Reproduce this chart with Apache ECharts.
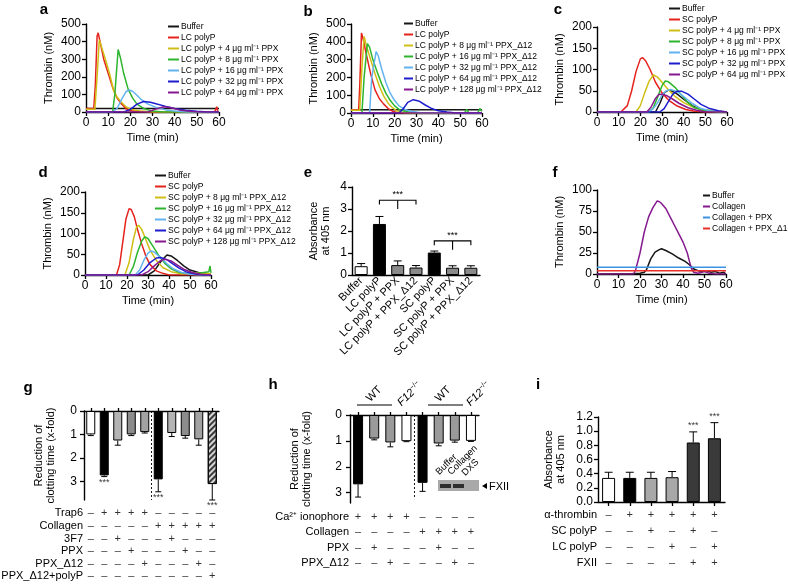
<!DOCTYPE html>
<html><head><meta charset="utf-8">
<script src="https://cdn.jsdelivr.net/npm/echarts/dist/echarts.min.js"></script>
<style>html,body{margin:0;padding:0;background:#fff}#c{width:788px;height:584px}</style>
</head><body><div id="c"></div>
<script>
// ---------------- DATA ----------------
const timeTicks = [0, 60, 10];
// panel a
const a_names = ['Buffer','LC polyP','LC polyP + 4 μg ml⁻¹ PPX','LC polyP + 8 μg ml⁻¹ PPX','LC polyP + 16 μg ml⁻¹ PPX','LC polyP + 32 μg ml⁻¹ PPX','LC polyP + 64 μg ml⁻¹ PPX'];
const a_buffer = [[0,20],[60,20]];
const a_lc = [[0,20],[3.5,20],[4.2,150],[5,430],[5.5,450],[6.5,390],[8,300],[10,220],[12,140],[14,80],[16,45],[18,20],[20,8],[24,2],[30,0],[58,0],[59,30],[59.5,0]];
const a_4 = [[0,15],[4,15],[5,200],[6,410],[7,370],[9,290],[11,200],[12.5,120],[14,85],[16,55],[18,30],[20,15],[25,5],[30,0],[60,0]];
const a_8 = [[0,0],[12,0],[13,100],[14.5,355],[15.5,310],[17,220],[19,130],[21,80],[23,45],[26,20],[30,5],[35,0],[60,0]];
const a_16 = [[0,0],[12,0],[14,20],[16,70],[18,115],[19.5,125],[21,118],[23,95],[25,70],[28,45],[32,25],[36,12],[40,5],[45,0],[60,0]];
const a_32 = [[0,0],[17,0],[20,15],[23,45],[26,60],[29,55],[32,45],[36,32],[40,20],[45,10],[50,4],[55,0],[60,0]];
const a_64 = [[0,0],[28,0],[31,15],[35,30],[38,25],[42,12],[46,5],[50,0],[60,0]];
// panel b
const b_names = ['Buffer','LC polyP','LC polyP + 8 μg ml⁻¹ PPX_Δ12','LC polyP + 16 μg ml⁻¹ PPX_Δ12','LC polyP + 32 μg ml⁻¹ PPX_Δ12','LC polyP + 64 μg ml⁻¹ PPX_Δ12','LC polyP + 128 μg ml⁻¹ PPX_Δ12'];
const b_buffer = [[0,18],[60,18]];
const b_lc = [[0,18],[3.5,18],[4,150],[4.8,450],[5.5,420],[7,330],[9,220],[11,130],[13,80],[15,50],[17,25],[19,10],[21,3],[25,0],[60,0]];
const b_8 = [[0,15],[4,15],[5,250],[6,430],[7,380],[9,300],[11,220],[13,150],[15,95],[17,55],[19,30],[21,12],[24,3],[28,0],[60,0]];
const b_16 = [[0,0],[5,0],[6,200],[7.5,390],[8.5,370],[10,300],[12,230],[14,165],[16,110],[18,70],[20,40],[22,20],[25,8],[30,0],[52,0],[53,20],[54,0],[58,0],[59,25],[60,10]];
const b_32 = [[0,0],[8.5,0],[9.5,200],[11.5,345],[12.5,320],[14,250],[16,170],[18,110],[20,70],[22,40],[25,18],[28,8],[32,2],[60,0]];
const b_64 = [[0,0],[22,0],[24,25],[26,60],[28.5,75],[31,68],[34,45],[37,25],[40,12],[44,5],[48,0],[60,0]];
const b_128 = [[0,0],[60,0]];
// panel c
const c_names = ['Buffer','SC polyP','SC polyP + 4 μg ml⁻¹ PPX','SC polyP + 8 μg ml⁻¹ PPX','SC polyP + 16 μg ml⁻¹ PPX','SC polyP + 32 μg ml⁻¹ PPX','SC polyP + 64 μg ml⁻¹ PPX'];
const c_buffer = [[0,0],[27,0],[29,20],[31,45],[33,52],[36,46],[40,30],[44,15],[48,5],[52,2],[60,0]];
const c_sc = [[0,0],[11,0],[14,15],[16,50],[18,95],[20,125],[21,128],[22.5,120],[24.5,100],[27,70],[30,45],[33,28],[37,14],[41,6],[45,2],[50,0],[60,0]];
const c_4 = [[0,0],[18,0],[20,15],[22,45],[24,72],[26,87],[28,82],[30,70],[33,52],[36,37],[40,22],[44,12],[48,6],[55,3],[60,0]];
const c_8 = [[0,0],[24,0],[26,10],[28,35],[30,62],[31.5,73],[33,71],[36,58],[39,40],[42,22],[45,10],[50,4],[55,0],[60,0]];
const c_16 = [[0,0],[24,0],[26,8],[28,22],[30,40],[32,50],[34,53],[37,48],[40,36],[44,20],[48,8],[52,3],[58,0]];
const c_32 = [[0,0],[29,0],[31,8],[33,25],[35,42],[37,49],[39,49],[42,42],[45,30],[48,18],[52,8],[56,3],[60,0]];
const c_64 = [[0,0],[23,0],[25,12],[27,32],[28.5,41],[30,42],[32,39],[35,30],[38,20],[42,10],[46,4],[50,0],[60,0]];
// panel d
const d_names = ['Buffer','SC polyP','SC polyP + 8 μg ml⁻¹ PPX_Δ12','SC polyP + 16 μg ml⁻¹ PPX_Δ12','SC polyP + 32 μg ml⁻¹ PPX_Δ12','SC polyP + 64 μg ml⁻¹ PPX_Δ12','SC polyP + 128 μg ml⁻¹ PPX_Δ12'];
const d_buffer = [[0,0],[30,0],[33,10],[36,32],[39,48],[41,46],[44,35],[47,22],[50,12],[54,6],[58,3],[60,2]];
const d_sc = [[0,0],[15,0],[16.5,25],[18,80],[19.5,135],[21,160],[22,158],[23.5,140],[25,110],[27,75],[29,45],[31,25],[34,10],[37,4],[40,0],[60,0]];
const d_8 = [[0,0],[19,0],[21,30],[23,85],[24.5,115],[25.5,120],[27,110],[29,85],[31,60],[34,35],[37,18],[41,8],[46,3],[52,5],[60,3]];
const d_16 = [[0,0],[21,0],[23,20],[25,55],[27,82],[28.5,92],[30,88],[32,72],[35,48],[38,28],[41,15],[45,6],[50,3],[55,5],[59,8],[59.5,22],[60,5]];
const d_32 = [[0,0],[24,0],[26,12],[28,35],[30,53],[31.5,58],[33,55],[36,42],[39,27],[42,15],[46,6],[50,2],[55,0],[60,0]];
const d_64 = [[0,0],[25,0],[28,12],[31,30],[34,41],[36,42],[39,37],[42,26],[45,16],[48,8],[52,3],[56,0],[60,0]];
const d_128 = [[0,0],[27,0],[30,8],[33,22],[36,35],[38,38],[41,34],[44,24],[47,14],[51,6],[55,2],[60,0]];
// panel f
const f_names = ['Buffer','Collagen','Collagen + PPX','Collagen + PPX_Δ12'];
const f_buffer = [[0,0],[15,0],[20,1],[22,2],[23,5],[25,18],[27,26],[29,29],[30,30],[32,28],[35,24],[38,19],[41,15],[43,11],[45,6],[47,4],[49,3],[51,4],[53,2],[55,3],[57,1],[59,2],[60,0]];
const f_collagen = [[0,0],[17,0],[18,5],[20,25],[22,50],[24,68],[26,79],[28,87],[29,86],[30,84],[32,78],[34,68],[36,58],[38,48],[40,38],[42,25],[43,15],[44,6],[45,2],[47,1],[50,3],[52,1],[55,0],[60,0]];
const f_ppx = [[0,8],[60,8]];
const f_d12 = [[0,4],[60,4]];
// panel e
const e_cats = ['Buffer','LC polyP','LC polyP + PPX','LC polyP + PPX_Δ12','SC polyP','SC polyP + PPX','SC polyP + PPX_Δ12'];
const e_vals = [0.4, 2.32, 0.45, 0.34, 1.02, 0.33, 0.33];
const e_errs = [0.52, 2.66, 0.64, 0.43, 1.09, 0.42, 0.42];
const e_brackets = [[1,3,2,3.4,3.2,3.0],[4,6,5,1.55,1.35,1.15]]; // from, to, mid, top, leg end, mid end
// panel g
const g_vals = [1.0, 2.75, 1.26, 1.0, 0.9, 2.92, 0.94, 1.07, 1.21, 3.12];
const g_errs = [1.05, 2.8, 1.46, 1.05, 0.94, 3.45, 1.09, 1.16, 1.46, 3.8];
const g_stars = [1, 5, 9];
const g_sep = 4.5;
const g_rows = ['Trap6','Collagen','3F7','PPX','PPX_Δ12','PPX_Δ12+polyP'];
const g_signs = ['-++++-----','-----+++++','--+---+---','---+---+--','----+---+-','---------+'];
// panel h
const h_vals = [2.68, 0.91, 1.06, 1.01, 2.62, 1.1, 0.99, 1.0];
const h_errs = [3.17, 0.96, 1.23, 1.03, 2.95, 1.19, 1.05, 1.02];
const h_sep = 3.5;
const h_rows = ['Ca²⁺ ionophore','Collagen','PPX','PPX_Δ12'];
const h_signs = ['++++----','----++++','-+---+--','--+---+-'];
// panel i
const i_vals = [0.34, 0.34, 0.34, 0.35, 0.84, 0.90];
const i_errs = [0.42, 0.42, 0.42, 0.43, 0.99, 1.12];
const i_stars = [4, 5];
const i_rows = ['α-thrombin','SC polyP','LC polyP','FXII'];
const i_signs = ['-+++++','--+-+-','---+-+','----++'];

// ---------------- STYLE ----------------
const FONT = '"Liberation Sans", Arial, Helvetica, sans-serif';
const K = '#000';
const COL = {black:'#161616', red:'#e5231d', yellow:'#cfbf14', green:'#2eb52e', lblue:'#63b3ef', blue:'#1d1dcf', purple:'#86198f', fblue:'#3d92e3', fred:'#e7302a'};
const seven = [COL.black, COL.red, COL.yellow, COL.green, COL.lblue, COL.blue, COL.purple];
const e_colors = ['#fff','#000','#8a8a8a','#8a8a8a','#000','#8a8a8a','#8a8a8a'];
const g_colors = ['#fff','#000','#b4b4b4','#8c8c8c','#a2a2a2','#000','#b4b4b4','#8c8c8c','#a2a2a2','hatch'];
const h_colors = ['#000','#9a9a9a','#9a9a9a','#fff','#000','#9a9a9a','#9a9a9a','#fff'];
const i_colors = ['#fff','#000','#a8a8a8','#a8a8a8','#3a3a3a','#3a3a3a'];

function merge(a, b){ const o = JSON.parse(JSON.stringify(a)); for (const k in b){ if (b[k] && typeof b[k]==='object' && !Array.isArray(b[k]) && typeof b[k]!=='function' && o[k] && typeof o[k]==='object') o[k] = Object.assign({}, o[k], b[k]); else o[k] = b[k]; } return o; }
const axBase = {
  axisLine:{show:true,onZero:false,lineStyle:{color:K,width:1.4}},
  axisTick:{show:true,length:4,lineStyle:{color:K,width:1.3}},
  axisLabel:{color:K,fontSize:12,fontFamily:FONT,margin:5},
  splitLine:{show:false},
  nameTextStyle:{color:K,fontSize:11,fontFamily:FONT,lineHeight:12}
};
const grids=[], xAxes=[], yAxes=[], series=[], legends=[];
function addGrid(g){ grids.push(Object.assign({outerBoundsMode:'none', containLabel:false}, g)); return grids.length-1; }
function addX(o){ xAxes.push(o); return xAxes.length-1; }
function addY(o){ yAxes.push(o); return yAxes.length-1; }

// ---------------- LINE PANELS ----------------
const linePanels = [
  {id:'a', grid:{left:86,top:24,width:133,height:88}, ymax:500, yint:100, lg:{left:168,top:22,w:11}, names:a_names, data:[a_buffer,a_lc,a_4,a_8,a_16,a_32,a_64], colors:seven},
  {id:'b', grid:{left:351,top:24,width:131,height:89}, ymax:500, yint:100, lg:{left:404,top:19,w:9}, names:b_names, data:[b_buffer,b_lc,b_8,b_16,b_32,b_64,b_128], colors:seven},
  {id:'c', grid:{left:597,top:27,width:130,height:85}, ymax:200, yint:50, lg:{left:669,top:4,w:11}, names:c_names, data:[c_buffer,c_sc,c_4,c_8,c_16,c_32,c_64], colors:seven},
  {id:'d', grid:{left:85,top:192,width:126,height:83}, ymax:200, yint:50, lg:{left:155,top:171,w:11}, names:d_names, data:[d_buffer,d_sc,d_8,d_16,d_32,d_64,d_128], colors:seven},
  {id:'f', grid:{left:597,top:190,width:129,height:84}, ymax:100, yint:25, lg:{left:703,top:191,w:7}, names:f_names, data:[f_buffer,f_collagen,f_ppx,f_d12], colors:[COL.black,COL.purple,COL.fblue,COL.fred]}
];
linePanels.forEach(p => {
  const gi = addGrid(p.grid);
  const xi = addX(merge(axBase,{gridIndex:gi,type:'value',min:timeTicks[0],max:timeTicks[1],interval:timeTicks[2],name:'Time (min)',nameLocation:'middle',nameGap:20}));
  const yi = addY(merge(axBase,{gridIndex:gi,type:'value',min:0,max:p.ymax,interval:p.yint,name:'Thrombin (nM)',nameLocation:'middle',nameGap:31}));
  p.data.forEach((d,k) => {
    series.push({type:'line', name:p.id+'|'+p.names[k], xAxisIndex:xi, yAxisIndex:yi, data:d, showSymbol:false, symbol:'none',
      lineStyle:{width:1.5,color:p.colors[k]}, itemStyle:{color:p.colors[k]}, silent:true, z:2+k});
  });
  legends.push({data:p.names.map(n=>p.id+'|'+n), orient:'vertical', left:p.lg.left, top:p.lg.top, icon:'rect', itemWidth:p.lg.w, itemHeight:2, itemGap:2, padding:0, selectedMode:false,
    formatter:n=>n.slice(2), textStyle:{fontSize:8.5,fontFamily:FONT,color:K,padding:[0,0,0,-3]}});
});

// ---------------- BAR HELPERS ----------------
function errSeries(xi, yi, vals, errs, cap){
  return {type:'custom', xAxisIndex:xi, yAxisIndex:yi, z:5, silent:true, clip:false,
    data: vals.map((v,i)=>[i,v,errs[i]]),
    renderItem:(params, api)=>{
      const i = api.value(0);
      const p0 = api.coord([i, vals[params.dataIndex]]);
      const p1 = api.coord([i, errs[params.dataIndex]]);
      return {type:'group', children:[
        {type:'line', shape:{x1:p0[0],y1:p0[1],x2:p1[0],y2:p1[1]}, style:{stroke:K,lineWidth:1}},
        {type:'line', shape:{x1:p1[0]-cap,y1:p1[1],x2:p1[0]+cap,y2:p1[1]}, style:{stroke:K,lineWidth:1}}
      ]};
    }};
}
function barData(vals, colors){
  return vals.map((v,i)=>{
    if (colors[i]==='hatch') return {value:v, itemStyle:{color:'#d6d6d6', borderColor:K, borderWidth:1,
      decal:{symbol:'rect', symbolSize:1, dashArrayX:[1,0], dashArrayY:[1.4,1.8], rotation:-Math.PI/4, color:'#3a3a3a'}}};
    return {value:v, itemStyle:{color:colors[i], borderColor:K, borderWidth:1}};
  });
}
function starSeries(xi, yi, idx, errs, pos){
  return {type:'scatter', xAxisIndex:xi, yAxisIndex:yi, symbolSize:1, itemStyle:{color:'rgba(0,0,0,0)'}, silent:true, clip:false, z:6,
    data: idx.map(i=>[i, errs[i]]),
    label:{show:true, position:pos, distance:1, formatter:'***', color:K, fontSize:9, fontFamily:FONT}};
}
function addTable(grid, n, rows, signs){
  const gi = addGrid(grid);
  const xi = addX({gridIndex:gi,type:'category',data:Array.from({length:n},(_, i)=>i),show:false,boundaryGap:true});
  const yi = addY({gridIndex:gi,type:'category',inverse:true,data:rows,axisLine:{show:false},axisTick:{show:false},splitLine:{show:false},
    axisLabel:{color:K,fontSize:11,fontFamily:FONT,margin:1,interval:0}});
  const data=[];
  signs.forEach((s,r)=>{ [...s].forEach((ch,c)=>data.push([c,r,ch==='+'?1:0])); });
  series.push({type:'scatter', xAxisIndex:xi, yAxisIndex:yi, symbolSize:1, itemStyle:{color:'rgba(0,0,0,0)'}, silent:true, data,
    label:{show:true, position:'inside', formatter:p=>p.value[2]?'+':'–', color:K, fontSize:11, fontFamily:FONT}, labelLayout:{hideOverlap:false}});
}

// ---------------- PANEL e ----------------
{
  const gi = addGrid({left:352,top:187,width:128,height:88});
  const xi = addX(merge(axBase,{gridIndex:gi,type:'category',data:e_cats,axisTick:{show:false},axisLabel:{rotate:45,interval:0,margin:4,fontSize:11}}));
  const yi = addY(merge(axBase,{gridIndex:gi,type:'value',min:0,max:4,interval:1,name:'Absorbance\nat 405 nm',nameLocation:'middle',nameGap:20}));
  series.push({type:'bar', xAxisIndex:xi, yAxisIndex:yi, barWidth:13, data:barData(e_vals,e_colors), silent:true, z:3});
  series.push(errSeries(xi, yi, e_vals, e_errs, 4));
  series.push({type:'custom', xAxisIndex:xi, yAxisIndex:yi, silent:true, clip:false, z:6,
    data:e_brackets.map(b=>[b[0],b[3]]),
    renderItem:(params, api)=>{
      const b = e_brackets[params.dataIndex];
      const A=api.coord([b[0],b[3]]), B=api.coord([b[1],b[3]]), AL=api.coord([b[0],b[4]]), BL=api.coord([b[1],b[4]]), M=api.coord([b[2],b[3]]), MB=api.coord([b[2],b[5]]);
      return {type:'group', children:[
        {type:'polyline', shape:{points:[AL,A,B,BL]}, style:{stroke:K,lineWidth:1.1,fill:null}},
        {type:'line', shape:{x1:M[0],y1:M[1],x2:MB[0],y2:MB[1]}, style:{stroke:K,lineWidth:1.1}},
        {type:'text', x:M[0], y:M[1]-1, style:{text:'***', textAlign:'center', textVerticalAlign:'bottom', fill:K, fontSize:9, fontFamily:FONT}}
      ]};
    }});
}
// ---------------- PANEL g ----------------
{
  const gi = addGrid({left:84,top:411,width:135,height:89});
  const xi = addX(merge(axBase,{gridIndex:gi,type:'category',position:'top',data:g_vals.map((_, i)=>i),axisLabel:{show:false},axisTick:{show:true,alignWithLabel:true,length:3}}));
  const yi = addY(merge(axBase,{gridIndex:gi,type:'value',inverse:true,min:0,max:3.8,interval:1,axisLabel:{showMaxLabel:false,margin:7},name:'Reduction of\nclotting time (x-fold)',nameLocation:'middle',nameGap:27}));
  const xv = addX({gridIndex:gi,type:'value',min:-0.5,max:g_vals.length-0.5,show:false});
  series.push({type:'bar', xAxisIndex:xi, yAxisIndex:yi, barWidth:9, data:barData(g_vals,g_colors), silent:true, z:3});
  series.push(errSeries(xi, yi, g_vals, g_errs, 3));
  series.push(starSeries(xi, yi, g_stars, g_errs, 'bottom'));
  series.push({type:'line', xAxisIndex:xv, yAxisIndex:yi, data:[[g_sep,0],[g_sep,3.8]], symbol:'none', silent:true, lineStyle:{color:K,width:0.9,type:[2,2]}});
  addTable({left:84,top:507,width:135,height:75.6}, g_vals.length, g_rows, g_signs);
}
// ---------------- PANEL h ----------------
{
  const gi = addGrid({left:350,top:415,width:129,height:88});
  const xi = addX(merge(axBase,{gridIndex:gi,type:'category',position:'top',data:h_vals.map((_, i)=>i),axisLabel:{show:false},axisTick:{show:true,alignWithLabel:true,length:3}}));
  const yi = addY(merge(axBase,{gridIndex:gi,type:'value',inverse:true,min:0,max:3.4,interval:1,axisLabel:{showMaxLabel:false,margin:8},name:'Reduction of\nclotting time (x-fold)',nameLocation:'middle',nameGap:37}));
  const xv = addX({gridIndex:gi,type:'value',min:-0.5,max:h_vals.length-0.5,show:false});
  series.push({type:'bar', xAxisIndex:xi, yAxisIndex:yi, barWidth:10, data:barData(h_vals,h_colors), silent:true, z:3});
  series.push(errSeries(xi, yi, h_vals, h_errs, 3));
  series.push({type:'line', xAxisIndex:xv, yAxisIndex:yi, data:[[h_sep,0],[h_sep,3.25]], symbol:'none', silent:true, lineStyle:{color:K,width:0.9,type:[2,2]}});
  addTable({left:350,top:509,width:129,height:62}, h_vals.length, h_rows, h_signs);
}
// ---------------- PANEL i ----------------
{
  const gi = addGrid({left:598,top:417,width:127,height:85});
  const xi = addX(merge(axBase,{gridIndex:gi,type:'category',data:i_vals.map((_, i)=>i),axisLabel:{show:false},axisTick:{show:true,alignWithLabel:true,length:4}}));
  const yi = addY(merge(axBase,{gridIndex:gi,type:'value',min:0,max:1.2,interval:0.2,axisLabel:{formatter:v=>v.toFixed(1)},name:'Absorbance\nat 405 nm',nameLocation:'middle',nameGap:31}));
  series.push({type:'bar', xAxisIndex:xi, yAxisIndex:yi, barWidth:13, data:barData(i_vals,i_colors), silent:true, z:3});
  series.push(errSeries(xi, yi, i_vals, i_errs, 4));
  series.push(starSeries(xi, yi, i_stars, i_errs, 'top'));
  addTable({left:598,top:507,width:127,height:64}, i_vals.length, i_rows, i_signs);
}

// ---------------- ANNOTATIONS ----------------
const letters = [['a',44,10],['b',308,12],['c',558,10],['d',43,173],['e',308,173],['f',555,173],['g',28,388],['h',273,385],['i',538,385]];
const graphic = letters.map(l=>({type:'text', x:l[1], y:l[2], style:{text:l[0], textAlign:'center', textVerticalAlign:'middle', fill:K, font:'bold 15px '+FONT}}));
const txt = (t,x,y,rot,size,extra)=>({type:'text', x, y, rotation:rot, style:Object.assign({text:t, textAlign:'left', textVerticalAlign:'bottom', fill:K, fontSize:size, fontFamily:FONT}, extra||{})});
const f12 = (x,y)=>({type:'text', x, y, rotation:Math.PI/4, style:{rich:{i:{fontStyle:'italic',fontSize:11,fontFamily:FONT,fill:K},s:{fontSize:7,fontFamily:FONT,fill:K,verticalAlign:'top',padding:[0,0,6,0]}}, text:'{i|F12}{s|−/−}', textAlign:'left', textVerticalAlign:'bottom'}});
graphic.push(
  txt('WT',372,404,Math.PI/4,11), txt('WT',441,404,Math.PI/4,11),
  f12(404,409), f12(473,409),
  {type:'line', shape:{x1:357,y1:405,x2:392,y2:405}, style:{stroke:K,lineWidth:1.1}},
  {type:'line', shape:{x1:428,y1:405,x2:463,y2:405}, style:{stroke:K,lineWidth:1.1}},
  {type:'rect', shape:{x:438,y:480,width:41,height:11}, style:{fill:'#a9a9a9'}},
  {type:'rect', shape:{x:440,y:484,width:11,height:4}, style:{fill:'#2e2e2e'}},
  {type:'rect', shape:{x:453,y:484,width:11,height:4}, style:{fill:'#2e2e2e'}},
  txt('Buffer',441,477,Math.PI/4,9.5), txt('Collagen',453,477,Math.PI/4,9.5), txt('DXS',467,478,Math.PI/4,9.5),
  {type:'polygon', shape:{points:[[482,486],[487,483],[487,489]]}, style:{fill:K}},
  txt('FXII',489,492,0,11)
);

const option = {animation:false, backgroundColor:'#fff', textStyle:{fontFamily:FONT},
  grid:grids, xAxis:xAxes, yAxis:yAxes, legend:legends, series, graphic};
const chart = echarts.init(document.getElementById('c'), null, {renderer:'canvas'});
chart.setOption(option);
</script></body></html>
